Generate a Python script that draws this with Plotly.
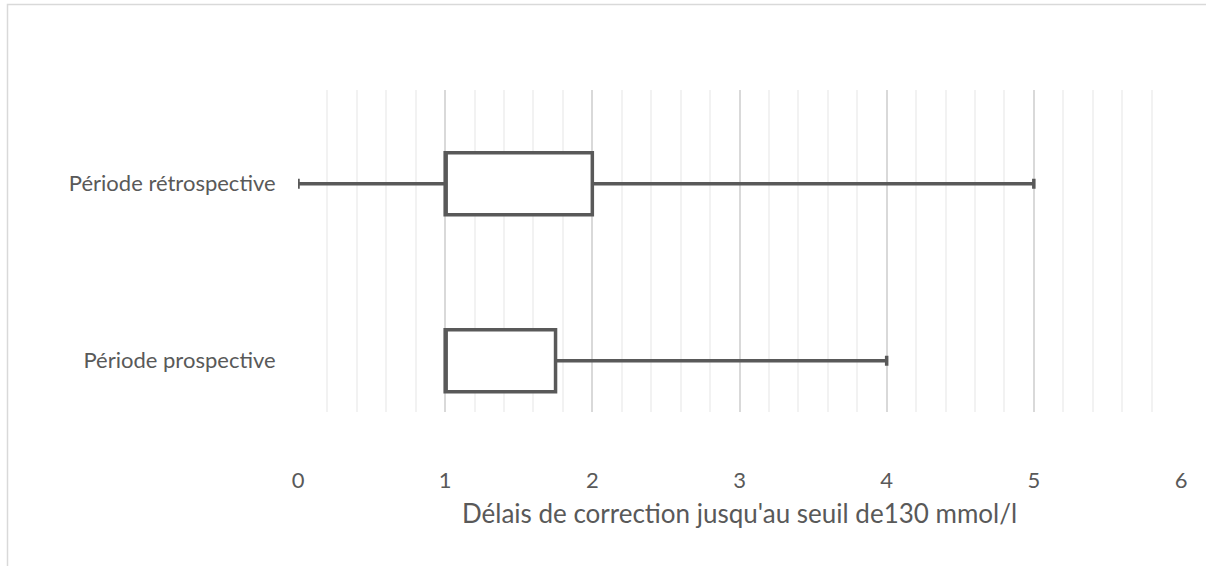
import plotly.graph_objects as go

categories = ["Période prospective", "Période rétrospective"]
cat_pos = [0, 1]
lower = [1, 0]
q1 = [1, 1]
median = [1, 1]
q3 = [1.75, 2]
upper = [4, 5]
x_ticks = [0, 1, 2, 3, 4, 5, 6]
x_title = "Délais de correction jusqu'au seuil de130 mmol/l"

W, H = 1206, 566
L, R, T, B = 298, 1181, 90, 412
FONT = "Lato, 'Open Sans', sans-serif"
TXT = "#595959"

fig = go.Figure()
for i in range(len(categories)):
    fig.add_trace(go.Box(
        y=[cat_pos[i]], orientation="h",
        q1=[q1[i]], median=[median[i]], q3=[q3[i]],
        lowerfence=[lower[i]], upperfence=[upper[i]],
        line=dict(color="#595959", width=3.5),
        fillcolor="white",
        width=0.35,
        whiskerwidth=0.16,
        boxpoints=False,
        showlegend=False,
        hoverinfo="skip",
    ))

def px2paper_x(px):
    return (px - L) / (R - L)

def px2paper_y(py):
    return (B - py) / (B - T)

fig.add_shape(type="rect", xref="paper", yref="paper",
              x0=px2paper_x(7.5), x1=px2paper_x(1230),
              y0=px2paper_y(600), y1=px2paper_y(4.5),
              line=dict(color="#d9d9d9", width=1.5), layer="below")

fig.update_layout(
    width=W, height=H,
    margin=dict(l=L, r=W - R, t=T, b=H - B, pad=0),
    paper_bgcolor="white", plot_bgcolor="white",
    font=dict(family=FONT, color=TXT, size=22),
    xaxis=dict(
        range=[0, 6], tickvals=x_ticks, ticktext=[str(v) for v in x_ticks],
        showgrid=True, gridcolor="#d9d9d9", gridwidth=2,
        minor=dict(dtick=0.2, showgrid=True, gridcolor="#f2f2f2", gridwidth=2),
        zeroline=False, showline=False,
        ticks="outside", ticklen=49, tickcolor="rgba(0,0,0,0)",
        tickfont=dict(size=22, color=TXT),
        title=dict(text=x_title, font=dict(size=26, color=TXT), standoff=12),
        fixedrange=True,
    ),
    yaxis=dict(
        range=[-0.29, 1.53], tickvals=cat_pos, ticktext=categories,
        showgrid=False, zeroline=False, showline=False,
        ticks="outside", ticklen=17, tickcolor="rgba(0,0,0,0)",
        tickfont=dict(size=22, color=TXT),
        fixedrange=True,
    ),
)

fig.write_html("out.html", config={"displayModeBar": False},
               post_script="document.body.style.margin='0';document.body.style.padding='0';")
